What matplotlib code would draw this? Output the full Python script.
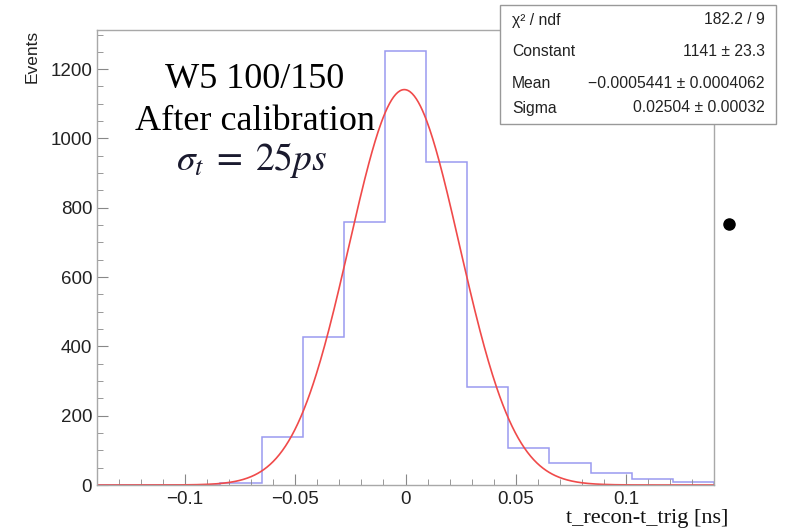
import numpy as np
import matplotlib
matplotlib.use("Agg")
import matplotlib.pyplot as plt
from matplotlib.patches import Rectangle
from matplotlib.lines import Line2D
from matplotlib.ticker import MultipleLocator

# histogram: 15 bins from -0.14 to 0.14
bin_edges = np.linspace(-0.14, 0.14, 16)
counts = [0, 0, 0, 5, 138, 428, 759, 1252, 931, 284, 106, 63, 34, 17, 9]

# gaussian fit results (stats box)
fit_const = 1141.0
fit_mean = -0.0005441
fit_sigma = 0.02504
stats_rows = [
    ("\u03c7\u00b2 / ndf", "182.2 / 9"),
    ("Constant", "1141 \u00b1 23.3"),
    ("Mean", "\u22120.0005441 \u00b1 0.0004062"),
    ("Sigma", "0.02504 \u00b1 0.00032"),
]

plt.rcParams["mathtext.fontset"] = "stix"

W, H = 785, 530
fig = plt.figure(figsize=(W / 100, H / 100), dpi=100)
ax = fig.add_axes([97 / W, 45 / H, 617 / W, 455 / H])

ax.stairs(counts, bin_edges, color="#9a9af0", linewidth=1.1)
xs = np.linspace(-0.14, 0.14, 600)
ax.plot(xs, fit_const * np.exp(-0.5 * ((xs - fit_mean) / fit_sigma) ** 2),
        color="#f04a4a", linewidth=1.2)

ax.set_xlim(-0.14, 0.14)
ax.set_ylim(0, 1313)
ax.xaxis.set_minor_locator(MultipleLocator(0.01))
ax.yaxis.set_major_locator(MultipleLocator(200))
ax.yaxis.set_minor_locator(MultipleLocator(50))
ax.set_xticks([-0.1, -0.05, 0, 0.05, 0.1])
ax.set_xticklabels(["\u22120.1", "\u22120.05", "0", "0.05", "0.1"])

for s in ax.spines.values():
    s.set_color("#a8a8a8")
    s.set_linewidth(1.0)
ax.tick_params(which="both", direction="in", colors="#888888",
               labelcolor="#222222", labelsize=13.5, top=False, right=False)
ax.tick_params(which="major", length=8)
ax.tick_params(which="minor", length=4.5)
for lab in ax.get_xticklabels() + ax.get_yticklabels():
    lab.set_family("Liberation Sans")
ax.tick_params(axis="x", pad=4)

fig.text(32 / W, 1 - 30 / H, "Events", rotation=90, ha="center", va="top",
         fontsize=12.5, family="Liberation Sans", color="#222222")
fig.text(728 / W, 1 - 528 / H, "t_recon-t_trig [ns]", ha="right",
         va="bottom", fontsize=16, family="Liberation Serif", color="#111111")

# annotation
txt_x = 255 / W
fig.text(txt_x, 1 - 80 / H, "W5 100/150", ha="center", va="center",
         fontsize=26, family="Liberation Serif")
fig.text(txt_x, 1 - 122 / H, "After calibration", ha="center", va="center",
         fontsize=26, family="Liberation Serif")
fig.text(txt_x - 3 / W, 1 - 160 / H, r"$\sigma_t\;=\;25ps$", ha="center",
         va="center", fontsize=27, color="#1a1a2e")

# stats box
bx0, by0, bx1, by1 = 500 / W, 1 - 124 / H, 776 / W, 1 - 5 / H
fig.patches.append(Rectangle((bx0, by0), bx1 - bx0, by1 - by0,
                             transform=fig.transFigure, facecolor="white",
                             edgecolor="#999999", linewidth=1.0, zorder=5))
row_y = [20, 52, 84, 108]
for (name, val), yy in zip(stats_rows, row_y):
    fig.text(512 / W, 1 - yy / H, name, ha="left", va="center", fontsize=11.3,
             family="Liberation Sans", color="#222222", zorder=6)
    fig.text(765 / W, 1 - yy / H, val, ha="right", va="center", fontsize=11.3,
             family="Liberation Sans", color="#222222", zorder=6)

# black dot outside the frame
fig.add_artist(Line2D([729 / W], [1 - 224 / H], transform=fig.transFigure,
                      marker="o", markersize=8, color="black", linestyle="none"))

fig.savefig("out.png", dpi=100)
